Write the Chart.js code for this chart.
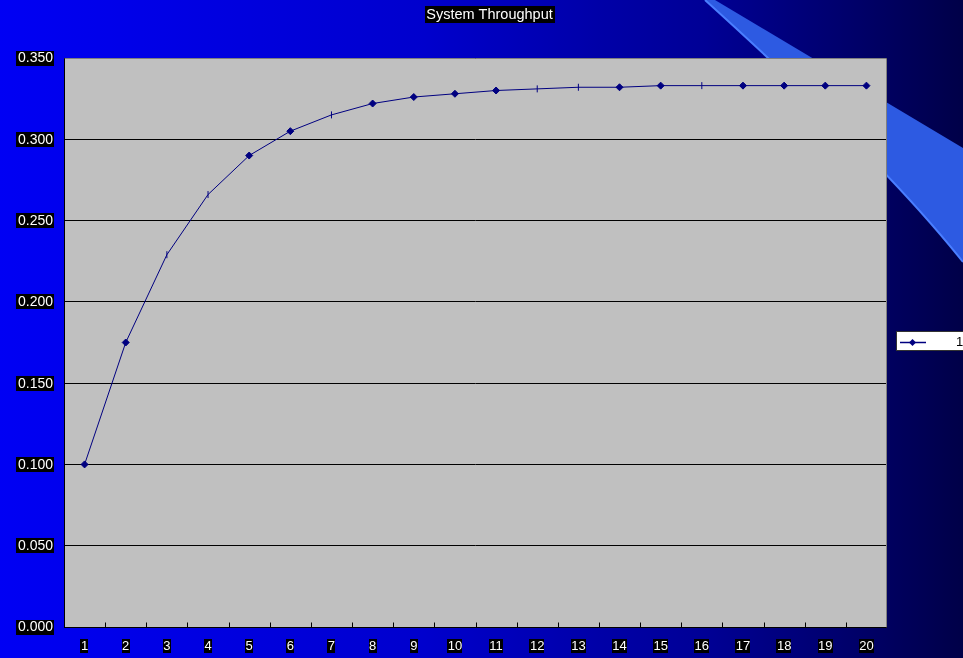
<!DOCTYPE html>
<html>
<head>
<meta charset="utf-8">
<title>System Throughput</title>
<script src="https://cdn.jsdelivr.net/npm/chart.js@4/dist/chart.umd.min.js"></script>
<style>
  html, body { margin: 0; padding: 0; width: 963px; height: 658px; overflow: hidden; }
  body {
    position: relative;
    background: linear-gradient(to right, #0000f4 0%, #0000cd 44%, #0000a8 62%, #000096 73%, #000060 92%, #000048 100%);
  }
  #swoosh { position: absolute; left: 0; top: 0; }
  #wrap { position: absolute; left: 0; top: 0; width: 963px; height: 658px; }
</style>
</head>
<body>
<svg id="swoosh" width="963" height="658" xmlns="http://www.w3.org/2000/svg">
  <path d="M715 0 L963 148 L963 262 Q882 160 705 0 Z" fill="#2d5ae2"/>
  <path d="M705 0 Q882 160 963 262" fill="none" stroke="#4a7eff" stroke-width="2"/>
</svg>
<div id="wrap"><canvas id="c" width="963" height="658"></canvas></div>
<script>
// Iteration number along the x axis
const categories = ['1', '2', '3', '4', '5', '6', '7', '8', '9', '10',
                    '11', '12', '13', '14', '15', '16', '17', '18', '19', '20'];

// Throughput per iteration
const throughput = [0.100, 0.175, 0.229, 0.266, 0.290, 0.305, 0.315, 0.322, 0.326, 0.328,
                    0.330, 0.331, 0.332, 0.332, 0.333, 0.333, 0.333, 0.333, 0.333, 0.333];

const seriesLabel = '1';
const chartTitle = 'System Throughput';

// Value axis range
const yMin = 0;
const yMax = 0.35;
const yStep = 0.05;

// Marker shape of each point (some render as thin vertical ticks)
const markerShapes = ['rectRot', 'rectRot', 'line', 'line', 'rectRot', 'rectRot', 'line', 'rectRot', 'rectRot', 'rectRot',
                      'rectRot', 'line', 'line', 'rectRot', 'rectRot', 'line', 'rectRot', 'rectRot', 'rectRot', 'rectRot'];
const markerTurns = markerShapes.map(s => (s === 'line' ? 90 : 0));

const FONT = "'Liberation Sans', Arial, Helvetica, sans-serif";
const NAVY = '#000080';

function boxedText(ctx, text, x, y, align, padX, h, font) {
  ctx.font = font;
  const w = ctx.measureText(text).width;
  const left = align === 'right' ? x - w : align === 'center' ? x - w / 2 : x;
  ctx.fillStyle = '#000';
  ctx.fillRect(Math.round(left - padX), Math.round(y - h / 2), Math.round(w + 2 * padX), h);
  ctx.fillStyle = '#fff';
  ctx.textAlign = align;
  ctx.textBaseline = 'middle';
  ctx.fillText(text, x, y + 0.5);
}

const plotDecor = {
  id: 'plotDecor',
  beforeDraw(chart) {
    const { ctx, chartArea: a } = chart;
    ctx.save();
    ctx.fillStyle = '#c0c0c0';
    ctx.fillRect(a.left, a.top, a.right - a.left, a.bottom - a.top);
    ctx.restore();
  },
  beforeDatasetsDraw(chart) {
    const { ctx, chartArea: a, scales } = chart;
    const x = scales.x;
    const L = Math.round(a.left) + 0.5, R = Math.round(a.right) - 0.5;
    const T = Math.round(a.top) + 0.5, B = Math.round(a.bottom) + 0.5;
    ctx.save();
    ctx.lineWidth = 1;
    ctx.strokeStyle = '#808080';
    ctx.beginPath(); ctx.moveTo(L, T); ctx.lineTo(R, T); ctx.lineTo(R, B); ctx.stroke();
    ctx.strokeStyle = '#000';
    ctx.beginPath(); ctx.moveTo(L, T); ctx.lineTo(L, B); ctx.lineTo(R, B); ctx.stroke();
    // category boundary tick marks pointing into the plot
    for (let i = 1; i < x.ticks.length; i++) {
      const px = Math.round((x.getPixelForTick(i - 1) + x.getPixelForTick(i)) / 2) + 0.5;
      ctx.beginPath(); ctx.moveTo(px, B); ctx.lineTo(px, B - 5); ctx.stroke();
    }
    ctx.restore();
  },
  afterDraw(chart) {
    const { ctx, scales } = chart;
    const x = scales.x, y = scales.y;
    ctx.save();
    // value axis labels
    y.ticks.forEach((t, i) => {
      const label = Number(t.value).toFixed(3);
      boxedText(ctx, label, 53, y.getPixelForTick(i), 'right', 1.5, 15, '14px ' + FONT);
    });
    // category labels
    x.ticks.forEach((t, i) => {
      const label = chart.data.labels[t.value];
      boxedText(ctx, label, x.getPixelForTick(i), 646, 'center', 0.5, 14, '13px ' + FONT);
    });
    // title
    boxedText(ctx, chartTitle, 489.5, 14.5, 'center', 1.5, 17, '14.5px ' + FONT);

    // legend box
    const ds = chart.data.datasets[0];
    ctx.fillStyle = '#fff';
    ctx.fillRect(896, 331, 80, 20);
    ctx.strokeStyle = '#333';
    ctx.lineWidth = 1;
    ctx.strokeRect(896.5, 331.5, 80, 19);
    ctx.strokeStyle = ds.borderColor;
    ctx.lineWidth = 1.5;
    ctx.beginPath(); ctx.moveTo(900, 342.5); ctx.lineTo(926, 342.5); ctx.stroke();
    ctx.fillStyle = ds.pointBackgroundColor;
    ctx.beginPath();
    ctx.moveTo(912.5, 339); ctx.lineTo(916, 342.5); ctx.lineTo(912.5, 346); ctx.lineTo(909, 342.5);
    ctx.closePath(); ctx.fill();
    ctx.fillStyle = '#000';
    ctx.font = '13px ' + FONT;
    ctx.textAlign = 'left';
    ctx.textBaseline = 'middle';
    ctx.fillText(ds.label, 956, 342);
    ctx.restore();
  }
};

new Chart(document.getElementById('c'), {
  type: 'line',
  data: {
    labels: categories,
    datasets: [{
      label: seriesLabel,
      data: throughput,
      borderColor: NAVY,
      borderWidth: 1,
      backgroundColor: NAVY,
      pointStyle: markerShapes,
      pointRotation: markerTurns,
      pointRadius: 3.5,
      pointBackgroundColor: NAVY,
      pointBorderColor: NAVY,
      pointBorderWidth: 1,
      tension: 0,
      fill: false
    }]
  },
  options: {
    responsive: false,
    animation: false,
    devicePixelRatio: 1,
    layout: { padding: { top: 58, right: 76, left: 0, bottom: 0 } },
    plugins: {
      legend: { display: false },
      title: { display: false },
      tooltip: { enabled: false }
    },
    scales: {
      x: {
        type: 'category',
        offset: true,
        grid: { display: false },
        border: { display: false },
        ticks: { display: false },
        afterFit(scale) { scale.height = 31; }
      },
      y: {
        min: yMin,
        max: yMax,
        ticks: { display: false, stepSize: yStep },
        grid: { color: '#000', lineWidth: 1, drawTicks: false },
        border: { display: false },
        afterFit(scale) { scale.width = 64; }
      }
    }
  },
  plugins: [plotDecor]
});
</script>
</body>
</html>
